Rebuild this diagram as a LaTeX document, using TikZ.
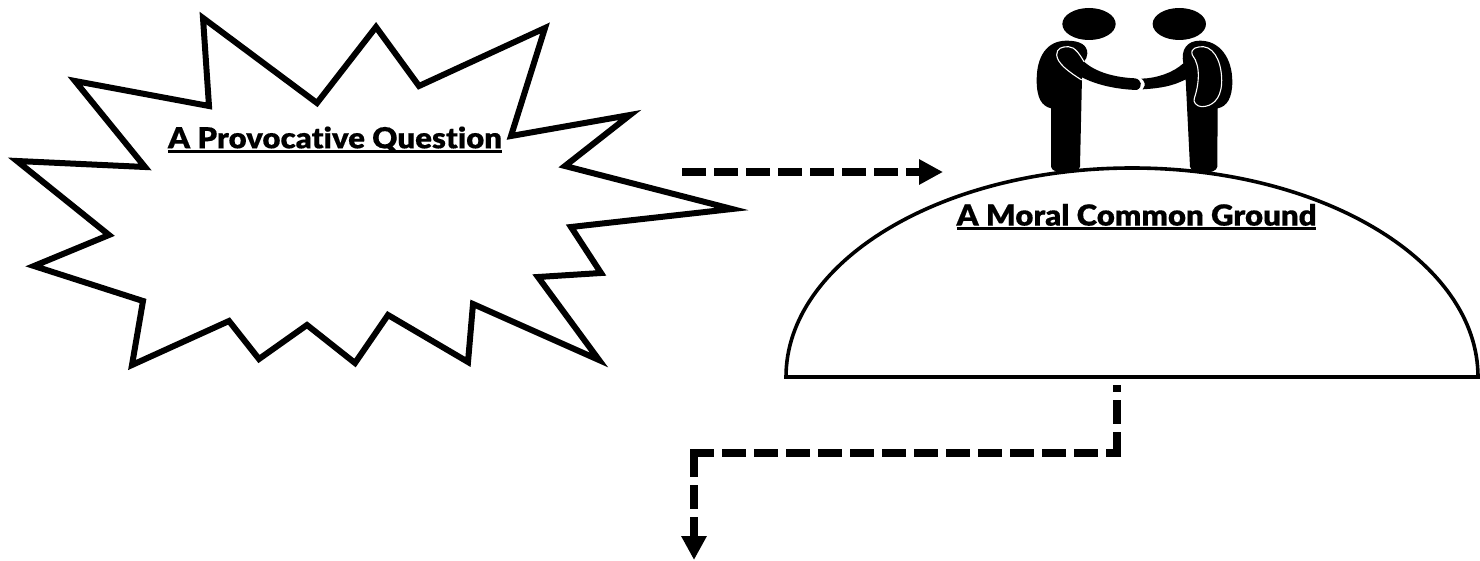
\documentclass[tikz,border=0pt]{standalone}
\usepackage{fontspec}
\newfontfamily\headfont[Ligatures=NoCommon,FakeStretch=1.075,FakeBold=0.3]{Lato Black}
\newcommand\ulinetext[1]{\setbox0=\hbox{#1}\copy0\llap{\rule[-4.6pt]{\wd0}{2.7pt}}}
\usetikzlibrary{arrows.meta}
\tikzset{
  burst/.style={draw=black,line width=6pt,miter limit=12,line join=miter,fill=white},
  dome/.style={draw=black,line width=3.6pt,fill=white},
  flow/.style={draw=black,line width=8.4pt,dash pattern=on 24pt off 8pt},
  flowhead/.style={-{Triangle[length=24pt,width=24pt]}},
  heading/.style={font=\fontsize{29}{33}\selectfont\headfont,inner sep=0pt,anchor=base},
  ink/.style={fill=black,draw=none},
  seam/.style={draw=white,line width=1.1pt}
}
\begin{document}
\begin{tikzpicture}[x=1pt,y=-1pt]
\useasboundingbox (0,0) rectangle (1480,561);
\fill[white] (0,0) rectangle (1480,561);
% burst
\draw[burst] (203,18) -- (317,103) -- (376,27) -- (419,86) -- (545,28) -- (511,136) -- (630,115) -- (565,166) -- (732,209) -- (571,227) -- (601,273) -- (538,277) -- (599,360) -- (473,304) -- (468,362) -- (388,315) -- (355,363) -- (307,325) -- (259,359) -- (229,321) -- (132,365) -- (143,301) -- (34,266) -- (109,235) -- (17,161) -- (145,167) -- (75,81) -- (209,106) -- cycle;
\node[heading] (q) at (335,148.3) {\ulinetext{A Provocative Question}};
% dome
\draw[dome] (786,377) arc [start angle=180,end angle=360,x radius=346,y radius=209] -- cycle;
\node[heading] (g) at (1136.5,225.6) {\ulinetext{A Moral Common Ground}};
% people
\begin{scope}[shift={(1000,0)},x=0.3333pt,y=-0.3333pt]
\fill[ink] (267,72) ellipse [x radius=80,y radius=48];
\fill[ink] (538,72) ellipse [x radius=80,y radius=48];
% left figure
\fill[ink] (200,122) .. controls (240,122) and (262,135) .. (262,160) .. controls (262,170) and (258,178) .. (252,185) .. controls (285,215) and (340,232) .. (405,235) .. controls (425,238) and (430,262) .. (410,270) .. controls (350,268) and (290,255) .. (246,232) -- (240,500) .. controls (238,525) and (155,525) .. (153,500) -- (153,325) .. controls (125,318) and (110,295) .. (110,240) .. controls (110,170) and (140,122) .. (200,122) -- cycle;
\draw[seam] (245,240) .. controls (205,215) and (172,190) .. (170,165) .. controls (170,145) and (185,140) .. (205,140) .. controls (225,140) and (240,165) .. (252,185);
% right figure
\fill[ink] (600,122) .. controls (660,122) and (697,175) .. (697,245) .. controls (697,295) and (680,320) .. (653,325) -- (652,500) .. controls (650,525) and (572,525) .. (570,500) -- (557,238) .. controls (520,258) and (480,265) .. (428,268) .. controls (440,255) and (432,240) .. (424,236) .. controls (470,235) and (520,218) .. (550,190) .. controls (542,150) and (560,122) .. (600,122) -- cycle;
\draw[seam] (577,165) .. controls (570,145) and (590,140) .. (610,140) .. controls (650,145) and (667,200) .. (665,250) .. controls (662,300) and (635,320) .. (605,320) .. controls (590,320) and (578,305) .. (583,295) .. controls (595,260) and (605,200) .. (577,165) -- cycle;
\end{scope}
% connectors
\coordinate (a1) at (682,172);
\coordinate (a2) at (943,172);
\coordinate (b1) at (1117,385);
\coordinate (b2) at (1117,457);
\coordinate (c1) at (1121,453);
\coordinate (c2) at (690,453);
\coordinate (d1) at (694,453);
\coordinate (d2) at (694,560);
\draw[flow,flowhead] (a1) -- (a2);
\draw[flow,dash phase=17pt] (b1) -- (b2);
\draw[flow,dash phase=8.7pt] (c1) -- (c2);
\draw[flow,flowhead] (d1) -- (d2);
\end{tikzpicture}
\end{document}
